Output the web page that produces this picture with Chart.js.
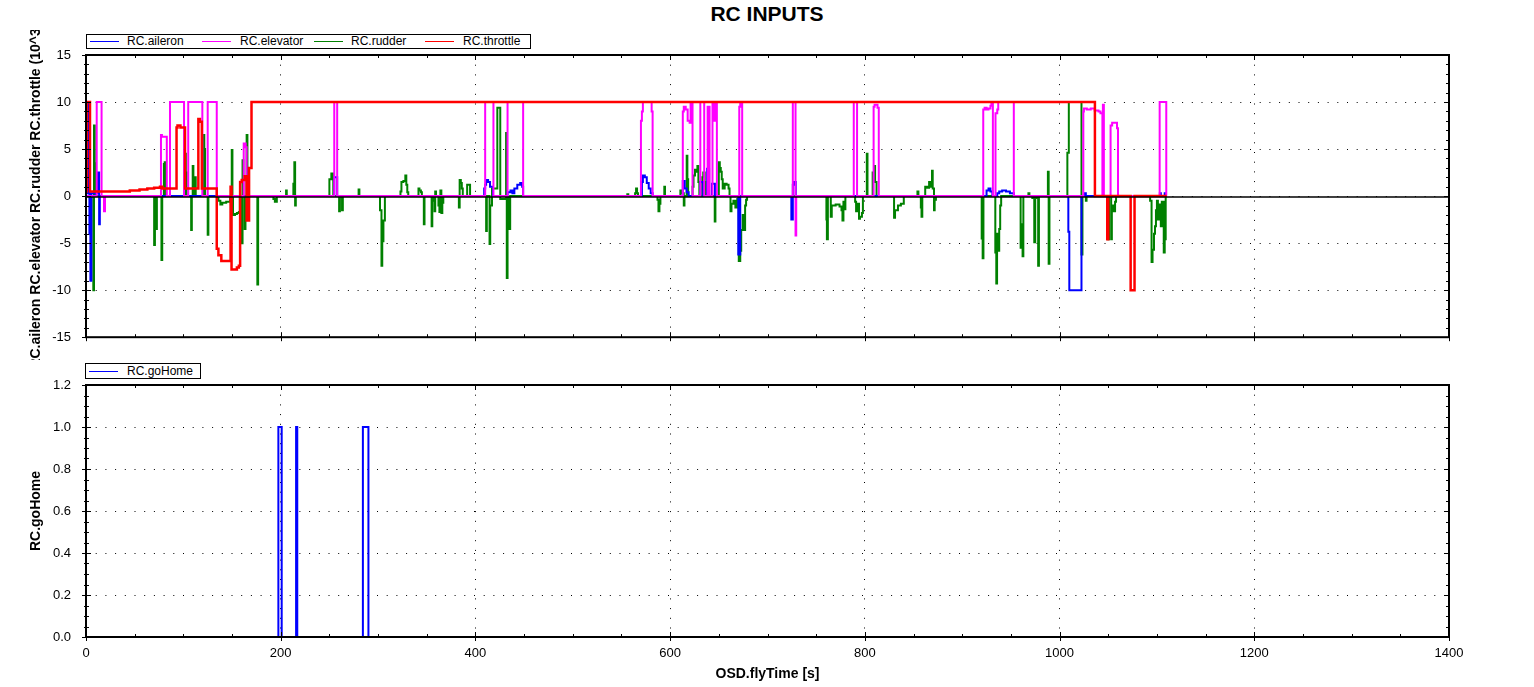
<!DOCTYPE html>
<html>
<head>
<meta charset="utf-8">
<title>RC INPUTS</title>
<script src="https://cdn.jsdelivr.net/npm/chart.js@4.4.1/dist/chart.umd.min.js"></script>
<style>
  body { margin:0; background:#fff; width:1534px; height:687px; overflow:hidden; position:relative;
         font-family: Arial, "Liberation Sans", sans-serif; }
  #title { position:absolute; left:0; top:2px; width:1534px; text-align:center; font-weight:bold; font-size:21px; }
  canvas { position:absolute; left:0; }
  .legend { position:absolute; border:1px solid #000; background:#fff; font-size:12px; z-index:2; }
  .legend span { position:absolute; }
  .legend .sw { height:1px; width:29px; }
</style>
</head>
<body>
<div id="title">RC INPUTS</div>

<div class="legend" style="left:86px;top:34px;width:443px;height:13px;">
  <span class="sw" style="left:3px;top:6px;background:#0000ff"></span><span style="left:40px;top:-1px">RC.aileron</span>
  <span class="sw" style="left:115px;top:6px;background:#ff00ff"></span><span style="left:153px;top:-1px">RC.elevator</span>
  <span class="sw" style="left:227px;top:6px;background:#008000"></span><span style="left:264px;top:-1px">RC.rudder</span>
  <span class="sw" style="left:338px;top:6px;background:#ff0000"></span><span style="left:376px;top:-1px">RC.throttle</span>
</div>
<div class="legend" style="left:85px;top:363px;width:114px;height:14px;">
  <span class="sw" style="left:3px;top:7px;background:#0000ff"></span><span style="left:41px;top:0px">RC.goHome</span>
</div>

<canvas id="topChart" width="1534" height="330" style="top:30px"></canvas>
<canvas id="bottomChart" width="1534" height="327" style="top:360px"></canvas>

<script>
// values, [flyTime s, value]; each value holds until the next time
const aileron = [[0,0.3],[2.4,10],[3.5,-4],[4.5,-9],[5.5,0.3],[12,2.5],[13.5,-3],[14.2,0],[255,2],[258,0],
  [409,0.8],[410,1.2],[411,1.7],[413,1.5],[415,1],[418,0],
  [433,0.4],[436,0.6],[438,0.3],[440,0.8],[443,1.2],[446,1.4],[448,1],[449,0],
  [571,1.5],[572,2.2],[574,2],[576,1.4],[578,0.8],[580,0.3],[582,0],
  [613,1.6],[615,0.8],[617,0.4],[619,0],[631,1.5],[634,0],[638,2.9],[640,0],[643,1.3],[646,0],
  [670,-6.2],[672,0],[724.5,-2.5],[726,1.2],[727,1.5],[729,0],
  [925,0.6],[927,0.8],[929,0.5],[931,0],[936,0.3],[938,0.5],[941,0.6],[945,0.5],[949,0.3],[953,0],
  [1009,-3.8],[1010,-10],[1022.5,0],[1026,0.3],[1027,0],[1103,0.3],[1104,0],[1108,0.3],[1109,0],[1110,0]];

const elevator = [[0,0],[11,10],[16,0],[18.5,-1.6],[19.5,0],
  [77,6.5],[78,6.3],[81,6.3],[83,0],[86.3,10],[100.7,0],[105,10],[119.5,0],[125,10],[134.3,0],
  [162,5.6],[164,5.2],[165,0],[255,10],[258,0],
  [410,10],[418.5,0],[433,10],[449,0],
  [570,8],[571,9],[572,10],[581,9],[582,0],
  [613,9],[614,9.5],[616,9.2],[618,8],[620,7.8],[621,10],[623,0],
  [631,10],[635,0],[638.5,9.5],[640.5,0],[643.5,10],[645,8],[646,10],[648,0],
  [671,9.5],[672,10],[674,0],
  [726,10],[728.8,-4.2],[729.5,0],
  [788.6,10],[792,0],[809,9.5],[810,9.7],[813,9.4],[814.3,0],
  [921.6,9.2],[923,9.4],[925,9.2],[927,9.3],[929,9.6],[930,10],[931.5,0],
  [934.2,8.8],[936,9.2],[937,10],[953,0],
  [1024.4,9],[1025,9.3],[1028,9.2],[1032,9.3],[1036,9.1],[1040,9],[1042,8.8],[1044,0],[1044.5,9.7],[1045.5,0],
  [1052.4,7.5],[1054,7.8],[1057,7.8],[1059,7.2],[1060,0],
  [1102.8,10],[1109.6,0],[1110,0]];

const rudder = [[0,0],[7.5,-10],[8.2,7.5],[9,3.5],[9.7,0],
  [70,-5.2],[70.8,0],[72,-3.5],[72.8,0],[77.5,-6.8],[78.3,0],[80,3.4],[80.8,3.6],[81.5,0],
  [101.7,4.5],[102.5,2.5],[103.3,0],[108,-3.6],[108.7,0],[109.6,3.2],[110.3,0],[112,2],[112.7,0],
  [120.6,6.5],[121.5,5],[122.3,0],[125,-4.1],[125.7,0],
  [136,-0.5],[138,-0.9],[140,-0.7],[144,-0.6],[148,0],
  [149.7,4.9],[150.4,0],[151,-2],[153,-1.9],[155,-1.8],[157,-1.7],[158,0],[160,-5],[160.8,3.8],[161.6,0],
  [163,-3.5],[163.8,0],[165,6.5],[165.8,0],[176,-9.4],[176.8,0],
  [192.5,-0.3],[194,-0.6],[196,0],[205.5,0.6],[206.2,0],[213,1.3],[214,3.6],[214.8,-1],[215.5,0],
  [250,1.8],[252,2.4],[254,0],[260,-1.6],[260.8,0],[263,-1.5],[263.8,0],[280,0.7],[280.8,0],
  [302,-1.5],[303.5,-7.4],[304.3,-4.8],[305.5,-2.6],[307,0],
  [323,0.5],[324,1.5],[326,1.6],[328,2.2],[329,1.2],[330,0.4],[331,0],
  [341.5,0.8],[342.5,0.6],[344,0.4],[345,0],[347,-3],[347.7,0],
  [355,-3.2],[355.7,-0.5],[357,0],[358,-1.6],[358.7,0.5],[359.5,0],
  [362,-1],[363,-1.7],[364,0.6],[365,-1.8],[366,-0.7],[367,0],
  [383,-1.2],[383.8,1.7],[385,1.4],[386,0.8],[387,0],[391.5,1.2],[394.5,0],
  [411,-3.7],[411.7,0],[414.5,-5.1],[415.2,-1],[417,0.8],[420,0.8],[422.5,9.4],[425.5,-0.3],
  [431.5,6.7],[432.2,-8.7],[433,-0.1],[435,-3.5],[435.7,0],
  [556,0.2],[557,0],[564,0.3],[565,0.8],[566,0.3],[567,0],
  [587,-0.4],[588,-1.6],[589,-0.8],[590,0],[594,1],[594.7,0],
  [610.5,0.6],[612,0.3],[614,-1],[614.7,0],[617,4.3],[617.7,1.8],[618.5,0],
  [623,1],[624,2.2],[625.5,2.8],[627,2.6],[628,3.2],[629,1.5],[630,0],
  [633,2],[634,2.5],[635.5,1.5],[636.5,0],[645.8,-2.7],[646.5,0],
  [650,3.6],[651,3],[652,2.6],[653,1.8],[654,0.8],[656,1.3],[658,1.2],[660,0.8],[661,0],
  [662,-1.6],[663,-0.8],[665,-0.5],[667,-1.2],[669,-0.3],[670.5,-6.9],[672,-5.8],[673,-3.6],
  [674.5,-2],[676,-3.6],[677,-1],[678,-0.4],[679,0],
  [760.5,-2.5],[761,-4.6],[762,0],[765,-2.2],[766,-1],[770,-0.9],[774,-1.1],[776,-1.5],[777,-2.6],
  [778,-0.6],[779,-1.4],[780,0],
  [790,-0.6],[791,-1.6],[792,-0.8],[794,-2.4],[795,-2.2],[797,-1.8],[798,0],[802,4.5],[802.7,0],
  [808,2.5],[809.5,3.2],[810.5,1.5],[812,0],
  [830,-2.3],[831,-1.5],[834,-1],[837,-0.8],[840,0],
  [854,0.5],[855,0],[857.5,-1.2],[858.2,-2.2],[859,0],[862,1],[864,0.9],[866,1.5],[867,1],
  [869,2.7],[869.7,0.8],[871,-1.5],[871.7,-0.4],[873,0],
  [920,-4.5],[921,-6.6],[921.8,0],
  [934,-6],[935,-9.3],[935.8,-4],[937,-5.8],[938,-3.5],[939,-1],[940,0],
  [960,-5.5],[961,-3],[962,-6.4],[962.8,0],[968,0.3],[969,0],
  [972,-0.2],[974,-4.9],[975,-0.2],[978,-7.4],[978.8,0],
  [988,2.6],[988.8,-7.2],[989.6,0],
  [1008,4.6],[1009.5,10],[1022.5,-6.2],[1023.5,0],[1027,-0.5],[1027.7,0],
  [1050,-4.6],[1050.8,0],[1053,-4.6],[1053.7,-1],[1055,-1.6],[1057,-0.6],[1058,0],
  [1093,-0.5],[1094.5,-7],[1095.5,-5.7],[1097,-4],[1098,-3.2],[1099,-1.5],[1100,-0.5],[1101,-2.5],
  [1102,-0.9],[1104,-3.2],[1105,-0.6],[1107,-6],[1108,-4.6],[1109,0],[1110,0]];

const throttle = [[0,0.5],[0.7,10],[4.1,0.5],[33,0.5],[45,0.6],[55,0.7],[63,0.8],[70,0.9],[76,1],[78.5,0.8],
  [93,7.3],[94,7.5],[97,7.3],[101.7,0.8],[115.4,8.2],[117,7.9],[119,0.8],
  [134.3,-5.6],[136,-6.3],[139,-6.9],[148.5,1],[149.5,-7.8],[155,-7.6],[157,-7.4],
  [158.3,1.5],[160,1.7],[163,2.1],[165,-2.6],[167.5,3],[170,10],
  [1036.3,0],[1049,-4.6],[1050,0],[1073,-10],[1077,0],[1110,0]];

const goHome = [[0,0],[197.6,1],[201,0],[215.8,1],[217,0],[284.4,1],[290.1,0],[1110,0]];

const xMax = 1400, xMinor = 50, xMajor = 200;
const topRange = [-15, 15], topMinor = 1, topMajor = 5;
const botRange = [0, 1.2], botMinor = 0.05, botMajor = 0.2;

const FONT = 'Arial, "Liberation Sans", sans-serif';

function isMajor(v, step) {
  return Math.abs(v / step - Math.round(v / step)) < 1e-6;
}

// frame box, inward ticks on every side, optional solid zero line
const frameTicks = {
  id: 'frameTicks',
  afterDatasetsDraw(chart, args, opts) {
    const { ctx, chartArea: a, scales } = chart;
    ctx.save();
    if (opts.zeroLine) {
      const y0 = Math.round(scales.y.getPixelForValue(0)) + 1;
      ctx.strokeStyle = '#000';
      ctx.lineWidth = 1.5;
      ctx.beginPath(); ctx.moveTo(a.left, y0); ctx.lineTo(a.right, y0); ctx.stroke();
    }
    ctx.strokeStyle = '#000';
    ctx.lineWidth = 1;
    ctx.beginPath();
    scales.x.ticks.forEach(t => {
      const px = Math.round(scales.x.getPixelForValue(t.value)) + 0.5;
      const mj = isMajor(t.value, opts.xMajor);
      const inLen = mj ? 5 : 3, outLen = mj ? 4 : 0;
      ctx.moveTo(px, a.bottom + outLen); ctx.lineTo(px, a.bottom - inLen);
      ctx.moveTo(px, a.top); ctx.lineTo(px, a.top + inLen);
    });
    scales.y.ticks.forEach(t => {
      const py = Math.round(scales.y.getPixelForValue(t.value)) + 0.5;
      const mj = isMajor(t.value, opts.yMajor);
      const inLen = mj ? 5 : 3, outLen = mj ? 4 : 2;
      ctx.moveTo(a.left - outLen, py); ctx.lineTo(a.left + inLen, py);
      ctx.moveTo(a.right, py); ctx.lineTo(a.right - inLen, py);
    });
    ctx.stroke();
    ctx.lineWidth = 2;
    ctx.strokeRect(a.left, a.top, a.right - a.left, a.bottom - a.top);
    ctx.restore();
  }
};

// stepped 'before': each value is held until the next sample time
function series(label, data, color, width, order) {
  return {
    label: label, data: data, borderColor: color, backgroundColor: color,
    borderWidth: width, pointRadius: 0, stepped: 'before', fill: false, order: order
  };
}

function makeChart(id, datasets, yr, yMinor, yMajor, yTitle, showX, padTop, xHeight, yFmt, zeroLine) {
  return new Chart(document.getElementById(id), {
    type: 'line',
    data: { datasets: datasets },
    plugins: [frameTicks],
    options: {
      responsive: false,
      animation: false,
      layout: { padding: { top: padTop, right: 85, left: 0, bottom: 0 } },
      plugins: {
        legend: { display: false },
        tooltip: { enabled: false },
        frameTicks: { xMajor: xMajor, yMajor: yMajor, zeroLine: zeroLine }
      },
      scales: {
        x: {
          type: 'linear', min: 0, max: xMax,
          afterFit: s => { s.height = xHeight; },
          ticks: {
            stepSize: xMinor, autoSkip: false, maxRotation: 0, padding: 9,
            color: '#000', font: { family: FONT, size: 13 },
            callback: v => (showX && isMajor(v, xMajor)) ? String(v) : ''
          },
          grid: {
            drawTicks: false, lineWidth: 1,
            color: c => isMajor(c.tick.value, xMajor) ? '#000' : 'rgba(0,0,0,0)'
          },
          border: { display: false, dash: [1, 8.7] },
          title: {
            display: showX, text: 'OSD.flyTime [s]', color: '#000',
            font: { family: FONT, size: 14, weight: 'bold' }, padding: { top: 0, bottom: 4 }
          }
        },
        y: {
          type: 'linear', min: yr[0], max: yr[1],
          afterFit: s => { s.width = 86; },
          ticks: {
            stepSize: yMinor, autoSkip: false, padding: 15,
            color: '#000', font: { family: FONT, size: 13 },
            callback: v => isMajor(v, yMajor) ? yFmt(v) : ''
          },
          grid: {
            drawTicks: false, lineWidth: 1,
            color: c => isMajor(c.tick.value, yMajor) ? '#000' : 'rgba(0,0,0,0)'
          },
          border: { display: false, dash: [1, 8.7] },
          title: {
            display: true, text: yTitle, color: '#000',
            font: { family: FONT, size: 14, weight: 'bold' }, padding: { top: 28, bottom: 0 }
          }
        }
      }
    }
  });
}

makeChart('topChart', [
  series('RC.throttle', throttle, '#ff0000', 2.5, 0),
  series('RC.elevator', elevator, '#ff00ff', 2, 1),
  series('RC.aileron', aileron, '#0000ff', 2, 2),
  series('RC.rudder', rudder, '#008000', 2, 3)
], topRange, topMinor, topMajor, 'RC.aileron RC.elevator RC.rudder RC.throttle (10^3)',
  false, 25, 13, v => String(Math.round(v)), true);

makeChart('bottomChart', [
  series('RC.goHome', goHome, '#0000ff', 2, 0)
], botRange, botMinor, botMajor, 'RC.goHome',
  true, 25, 50, v => v.toFixed(1), false);
</script>
</body>
</html>
